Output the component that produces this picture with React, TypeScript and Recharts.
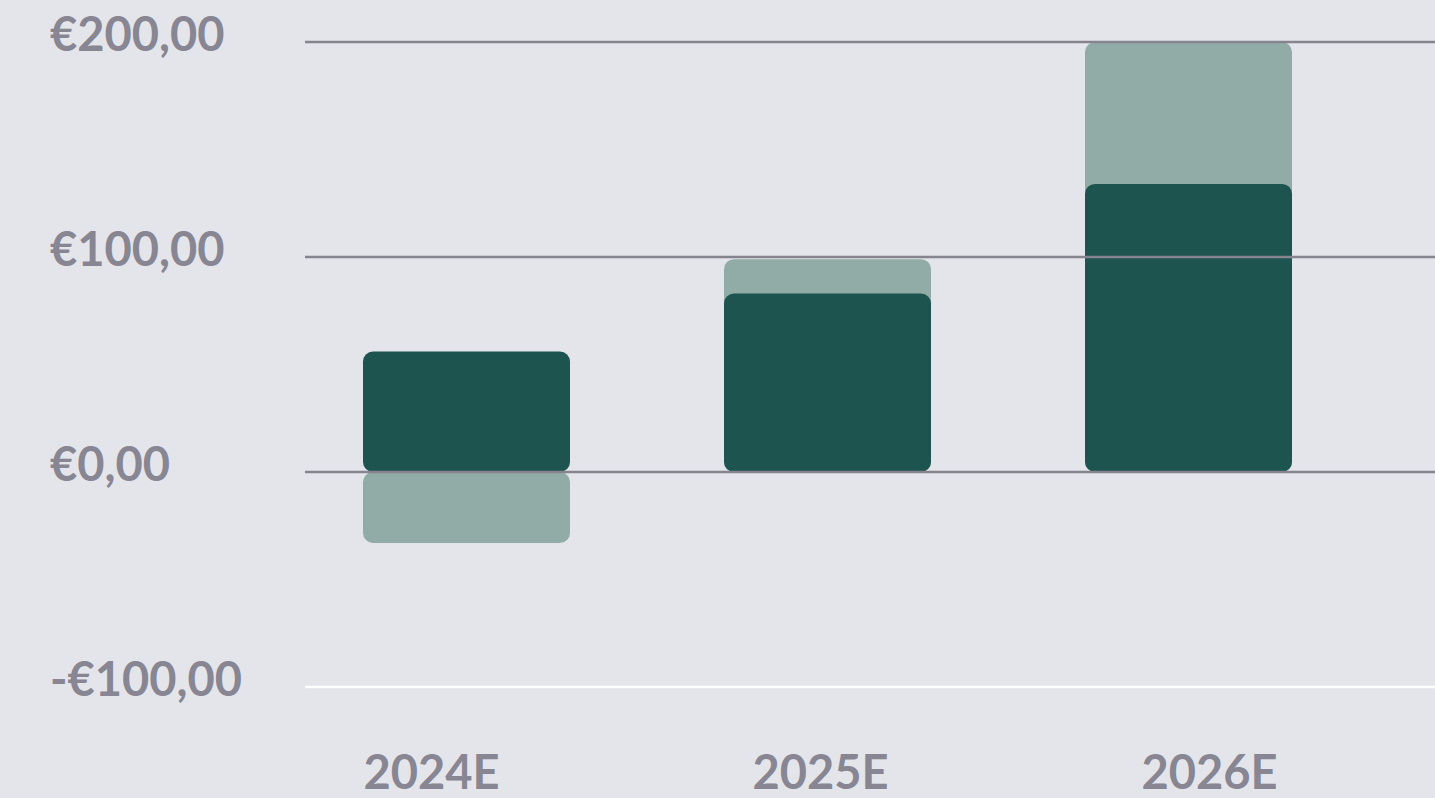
import { Bar, BarChart, ReferenceLine, XAxis, YAxis } from "recharts";

const BG = "#E4E5EA";
const DARK = "#1E5450";
const LIGHT = "#91ACA6";
const GRID = "#85848F";
const LABEL = "#878692";
const FONT = "Lato, 'Noto Sans', sans-serif";

const years = ["2024E", "2025E", "2026E"];
const lightValues = [-33, 99, 200];
const darkValues = [56, 83, 134];
const yTicks = [-100, 0, 100, 200];

const data = years.map((year, i) => ({ year, light: lightValues[i], dark: darkValues[i] }));

const euro = (v: number) => `${v < 0 ? "-" : ""}€${Math.abs(v).toFixed(2).replace(".", ",")}`;

function YTick({ y, payload }: any) {
  return (
    <text x={50} y={y + 9} textAnchor="start" fill={LABEL} fontFamily={FONT} fontWeight={700} fontSize={47}>
      {euro(payload.value)}
    </text>
  );
}

function XTick({ x, y, payload }: any) {
  return (
    <text x={x} y={y + 72} textAnchor="middle" fill={LABEL} fontFamily={FONT} fontWeight={700} fontSize={47}>
      {payload.value}
    </text>
  );
}

export default function App() {
  return (
    <div style={{ position: "absolute", left: 0, top: 0, width: 1435, height: 798, background: BG }}>
      <BarChart
        width={1435}
        height={798}
        data={data}
        margin={{ top: 42, right: 0, left: 0, bottom: 0 }}
        barSize={207}
        barGap={-207}
      >
        {/* bars sit on a hidden axis, the year labels on their own axis */}
        <XAxis xAxisId="bars" dataKey="year" hide padding={{ left: -19, right: 66 }} />
        <XAxis
          xAxisId="labels"
          dataKey="year"
          height={111}
          axisLine={false}
          tickLine={false}
          tickSize={0}
          tickMargin={0}
          padding={{ left: -68, right: 31 }}
          tick={<XTick />}
          interval={0}
        />
        <YAxis
          domain={[-100, 200]}
          ticks={yTicks}
          width={305}
          axisLine={false}
          tickLine={false}
          tick={<YTick />}
          interval={0}
        />
        {yTicks.map((t) => (
          <ReferenceLine
            key={t}
            xAxisId="bars"
            y={t}
            stroke={t === -100 ? "#FFFFFF" : GRID}
            strokeWidth={2.5}
          />
        ))}
        <Bar xAxisId="bars" dataKey="light" fill={LIGHT} radius={10} isAnimationActive={false} />
        <Bar xAxisId="bars" dataKey="dark" fill={DARK} radius={10} isAnimationActive={false} />
      </BarChart>
    </div>
  );
}
